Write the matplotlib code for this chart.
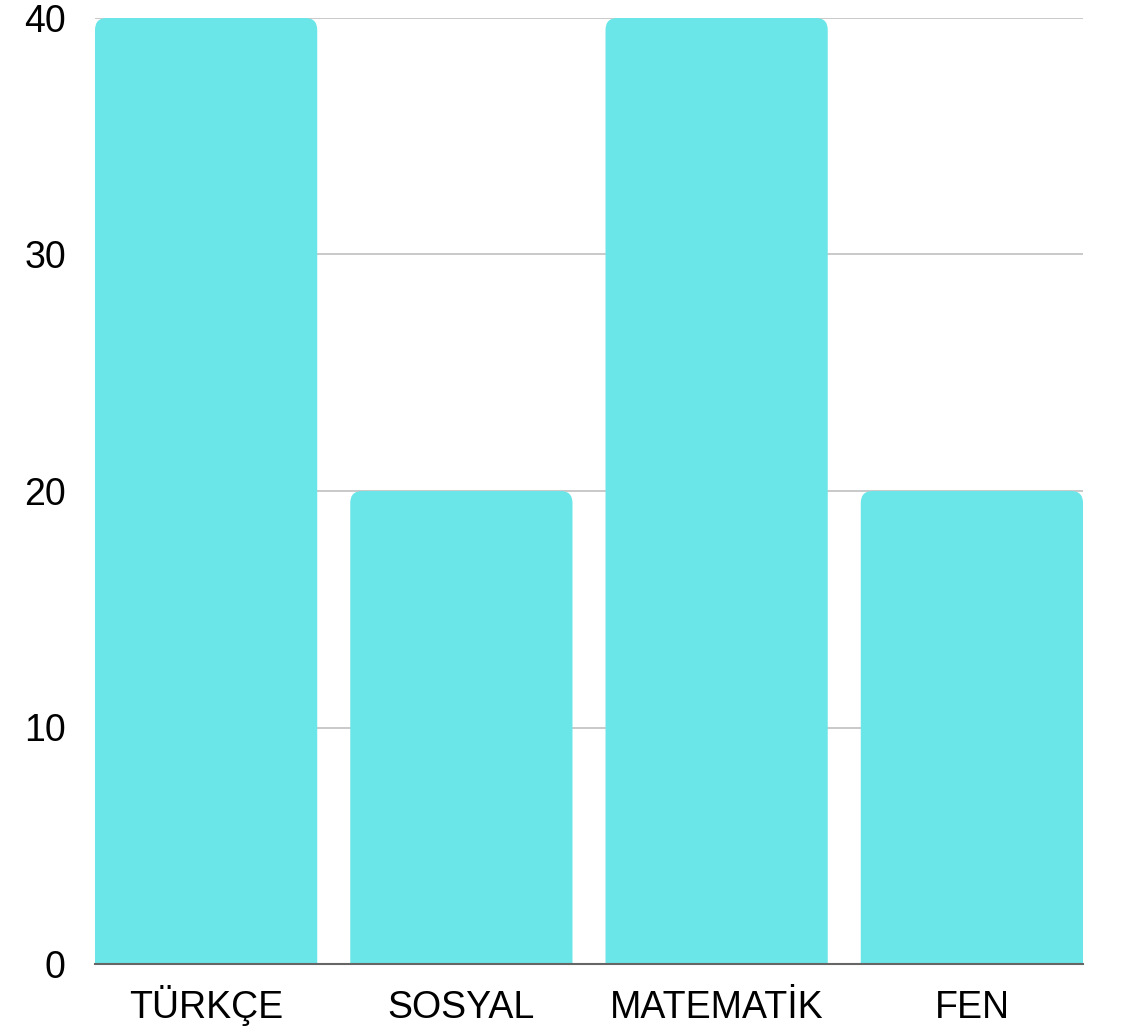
import matplotlib
matplotlib.use("Agg")
import matplotlib.pyplot as plt
from matplotlib.path import Path
from matplotlib.patches import PathPatch

plt.rcParams['font.family'] = ['Liberation Sans', 'DejaVu Sans']

# data
categories = ['TÜRKÇE', 'SOSYAL', 'MATEMATİK', 'FEN']
values = [40, 20, 40, 20]
y_ticks = [0, 10, 20, 30, 40]

bar_color = '#6ae5e8'
bar_width = 222 / 255

fig = plt.figure(figsize=(11.22, 10.29), dpi=100)
ax = fig.add_axes([95 / 1122, 1 - 964 / 1029, 988 / 1122, 946 / 1029])

xs = list(range(len(categories)))
bars = ax.bar(xs, values, width=bar_width, color=bar_color, zorder=2)
ax.set_xlim(-bar_width / 2, len(categories) - 1 + bar_width / 2)
ax.set_ylim(0, 40)

# round the top corners: replace rectangles with paths
fig.canvas.draw()
px_x = ax.transData.transform((1, 0))[0] - ax.transData.transform((0, 0))[0]
px_y = ax.transData.transform((0, 1))[1] - ax.transData.transform((0, 0))[1]
r_px = 12
rx, ry = r_px / px_x, r_px / px_y
for b in bars:
    x0, y0 = b.get_x(), b.get_y()
    w, h = b.get_width(), b.get_height()
    x1, y1 = x0 + w, y0 + h
    verts = [(x0, y0), (x0, y1 - ry), (x0, y1), (x0 + rx, y1),
             (x1 - rx, y1), (x1, y1), (x1, y1 - ry), (x1, y0), (x0, y0)]
    codes = [Path.MOVETO, Path.LINETO, Path.CURVE3, Path.CURVE3,
             Path.LINETO, Path.CURVE3, Path.CURVE3, Path.LINETO, Path.CLOSEPOLY]
    b.set_visible(False)
    ax.add_patch(PathPatch(Path(verts, codes), facecolor=bar_color,
                           edgecolor='none', zorder=2))

ax.set_yticks(y_ticks)
ax.set_xticks(xs)
ax.set_xticklabels(categories, va='baseline')
ax.tick_params(axis='y', length=0, pad=21, labelsize=27)
ax.tick_params(axis='x', length=0, pad=39, labelsize=27)
ax.yaxis.grid(True, color='#c0c0c0', linewidth=1.2, zorder=0)
ax.set_axisbelow(True)

for s in ['top', 'right', 'left']:
    ax.spines[s].set_visible(False)
ax.spines['bottom'].set_color('#666666')
ax.spines['bottom'].set_linewidth(1.5)
ax.spines['bottom'].set_zorder(3)

fig.savefig('out.png', dpi=100)
